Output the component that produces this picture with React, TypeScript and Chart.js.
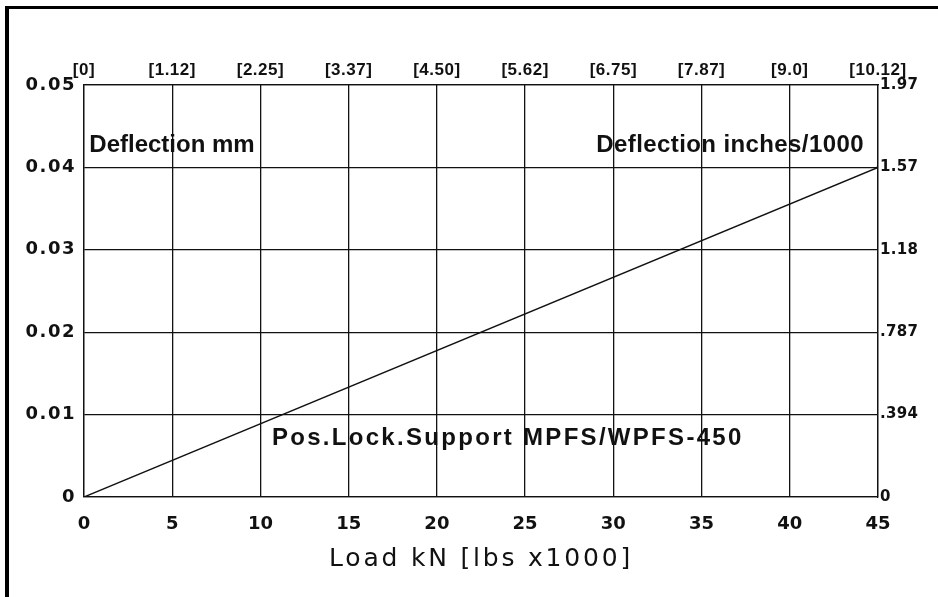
import React, { useEffect, useRef } from 'react';
import { Chart, registerables } from 'chart.js';

Chart.register(...registerables);

// ---- data ----
const loadKN = [0, 45];
const deflectionMM = [0, 0.04];

const xTickValues = [0, 5, 10, 15, 20, 25, 30, 35, 40, 45];
const bottomTickLabels = ['0', '5', '10', '15', '20', '25', '30', '35', '40', '45'];
const topTickLabels = ['[0]', '[1.12]', '[2.25]', '[3.37]', '[4.50]', '[5.62]', '[6.75]', '[7.87]', '[9.0]', '[10.12]'];

const yTickValues = [0, 0.01, 0.02, 0.03, 0.04, 0.05];
const leftTickLabels = ['0', '0.01', '0.02', '0.03', '0.04', '0.05'];
const rightTickLabels = ['0', '.394', '.787', '1.18', '1.57', '1.97'];

const xTitle = 'Load kN [lbs x1000]';
const noteTexts = ['Deflection mm', 'Deflection inches/1000', 'Pos.Lock.Support MPFS/WPFS-450'];

// ---- styling / placement ----
const INK = '#111';
const GRID_W = 1.3;
const LIB = '"Liberation Sans", Arial, sans-serif';
const DJV = '"DejaVu Sans", sans-serif';

const notePlacement = [
  { x: 0.3, y: 0.0427, align: 'left', spacing: '0px' },
  { x: 44.2, y: 0.0427, align: 'right', spacing: '0.4px' },
  { x: 10.65, y: 0.0071, align: 'left', spacing: '2.3px' },
];

const spacingByScale: Record<string, { labels: string; title: string }> = {
  x: { labels: '0px', title: '2.8px' },
  x2: { labels: '0.5px', title: '0px' },
  y: { labels: '1.5px', title: '0px' },
  y2: { labels: '0.3px', title: '0px' },
};

const spacingPlugin = {
  id: 'letterSpacingPerScale',
  beforeDraw(chart: any) {
    Object.values(chart.scales).forEach((s: any) => {
      const cfg = spacingByScale[s.id];
      if (!cfg || s.__spWrapped) return;
      s.__spWrapped = true;
      const dl = s.drawLabels.bind(s);
      const dt = s.drawTitle.bind(s);
      s.drawLabels = (area: any) => {
        const ctx = chart.ctx;
        const prev = ctx.letterSpacing;
        ctx.letterSpacing = cfg.labels;
        dl(area);
        ctx.letterSpacing = prev;
      };
      s.drawTitle = () => {
        const ctx = chart.ctx;
        const prev = ctx.letterSpacing;
        ctx.letterSpacing = cfg.title;
        dt();
        ctx.letterSpacing = prev;
      };
    });
  },
};

const notesPlugin = {
  id: 'notes',
  afterDatasetsDraw(chart: any) {
    const ctx = chart.ctx;
    const xs = chart.scales.x;
    const ys = chart.scales.y;
    ctx.save();
    ctx.fillStyle = INK;
    ctx.font = `bold 24px ${LIB}`;
    ctx.textBaseline = 'middle';
    noteTexts.forEach((t, i) => {
      const p = notePlacement[i];
      ctx.letterSpacing = p.spacing;
      ctx.textAlign = p.align;
      ctx.fillText(t, xs.getPixelForValue(p.x), ys.getPixelForValue(p.y));
    });
    ctx.restore();
  },
};

export default function App() {
  const ref = useRef<HTMLCanvasElement | null>(null);

  useEffect(() => {
    if (!ref.current) return;
    const setX = (scale: any) => {
      scale.ticks = xTickValues.map((v) => ({ value: v }));
    };
    const setY = (scale: any) => {
      scale.ticks = yTickValues.map((v) => ({ value: v }));
    };
    const chart = new Chart(ref.current, {
      type: 'line',
      data: {
        datasets: [
          {
            data: loadKN.map((x, i) => ({ x, y: deflectionMM[i] })),
            borderColor: INK,
            borderWidth: 1.4,
            pointRadius: [0, 1.6],
            pointBackgroundColor: INK,
            pointBorderWidth: 0,
            fill: false,
            tension: 0,
          },
        ],
      },
      options: {
        responsive: false,
        animation: false,
        devicePixelRatio: 1,
        layout: { padding: 0 },
        plugins: { legend: { display: false }, tooltip: { enabled: false } },
        scales: {
          x: {
            type: 'linear',
            position: 'bottom',
            min: 0,
            max: 45,
            afterBuildTicks: setX,
            afterFit: (s: any) => { s.height = 100; },
            grid: { color: INK, lineWidth: GRID_W, drawTicks: false },
            border: { color: INK, width: GRID_W },
            ticks: {
              autoSkip: false,
              maxRotation: 0,
              padding: 17,
              color: INK,
              font: { family: DJV, size: 18, weight: 'bold' },
              callback: (_v: any, i: number) => bottomTickLabels[i],
            },
            title: {
              display: true,
              text: xTitle,
              color: INK,
              font: { family: DJV, size: 25, weight: 'normal' },
              padding: { top: 0, bottom: 23 },
            },
          },
          x2: {
            type: 'linear',
            position: 'top',
            min: 0,
            max: 45,
            afterBuildTicks: setX,
            afterFit: (s: any) => { s.height = 85; },
            grid: { display: false, drawTicks: false },
            border: { color: INK, width: GRID_W },
            ticks: {
              autoSkip: false,
              maxRotation: 0,
              padding: 4,
              color: INK,
              font: { family: LIB, size: 17, weight: 'bold' },
              callback: (_v: any, i: number) => topTickLabels[i],
            },
          },
          y: {
            type: 'linear',
            position: 'left',
            min: 0,
            max: 0.05,
            afterBuildTicks: setY,
            afterFit: (s: any) => { s.width = 84; },
            grid: { color: INK, lineWidth: GRID_W, drawTicks: false },
            border: { color: INK, width: GRID_W },
            ticks: {
              autoSkip: false,
              padding: 8,
              color: INK,
              font: { family: DJV, size: 18, weight: 'bold' },
              callback: (_v: any, i: number) => leftTickLabels[i],
            },
          },
          y2: {
            type: 'linear',
            position: 'right',
            min: 0,
            max: 0.05,
            afterBuildTicks: setY,
            afterFit: (s: any) => { s.width = 60; },
            grid: { display: false, drawTicks: false },
            border: { color: INK, width: GRID_W },
            ticks: {
              autoSkip: false,
              padding: 2,
              color: INK,
              font: { family: DJV, size: 15, weight: 'bold' },
              callback: (_v: any, i: number) => rightTickLabels[i],
            },
          },
        },
      } as any,
      plugins: [spacingPlugin, notesPlugin] as any,
    });
    return () => chart.destroy();
  }, []);

  return (
    <div
      style={{
        position: 'fixed',
        left: 0,
        top: 0,
        width: 938,
        height: 597,
        overflow: 'hidden',
        background: '#fff',
      }}
    >
      <div
        style={{
          position: 'absolute',
          left: 5,
          top: 6,
          width: 1200,
          height: 1200,
          borderLeft: '4px solid #000',
          borderTop: '3px solid #000',
        }}
      />
      <canvas
        ref={ref}
        width={938}
        height={597}
        style={{ position: 'absolute', left: 0, top: 0, display: 'block' }}
      />
    </div>
  );
}
